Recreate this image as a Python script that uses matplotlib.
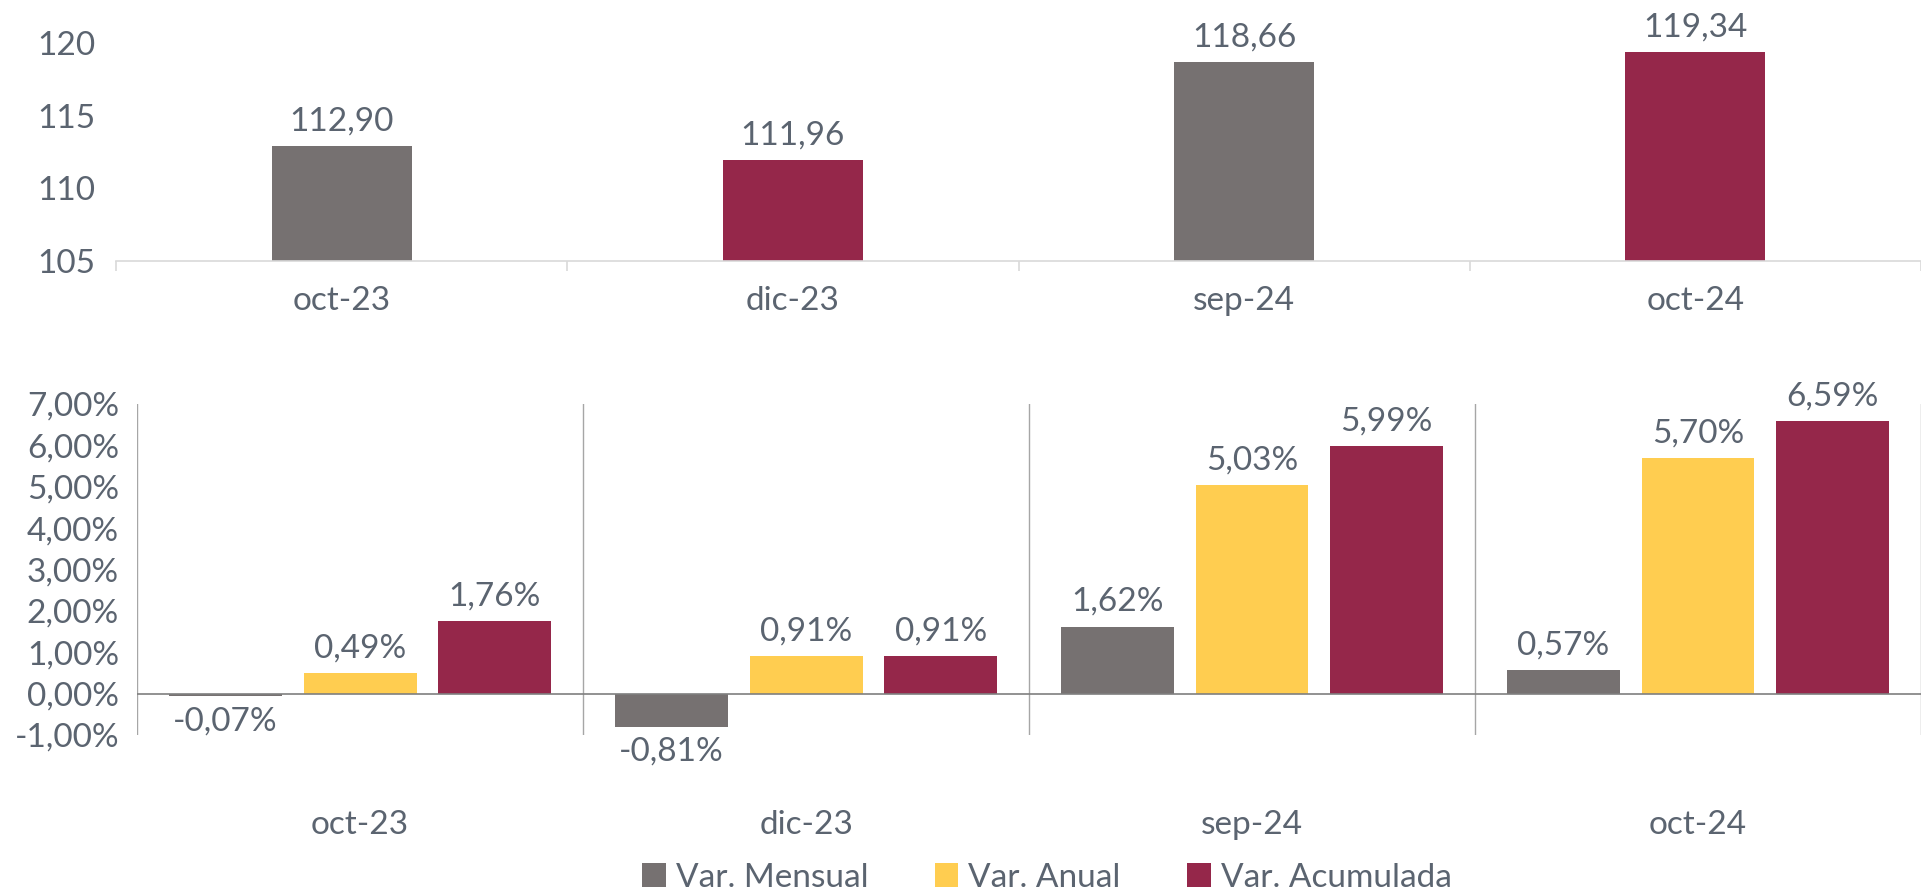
import numpy as np
import matplotlib.pyplot as plt

# datos
periodos = ["oct-23", "dic-23", "sep-24", "oct-24"]
indice = [112.90, 111.96, 118.66, 119.34]
var_mensual = [-0.07, -0.81, 1.62, 0.57]
var_anual = [0.49, 0.91, 5.03, 5.70]
var_acumulada = [1.76, 0.91, 5.99, 6.59]

GRIS = "#767171"
AMARILLO = "#FFCD50"
GRANATE = "#95274A"
TEXTO = "#5B6470"
FS = 24

plt.rcParams["font.family"] = ["Lato", "DejaVu Sans"]
plt.rcParams["font.size"] = FS
plt.rcParams["text.color"] = TEXTO


def fmt(v, pct=False):
    s = f"{v:.2f}".replace(".", ",")
    return s + "%" if pct else s


fig = plt.figure(figsize=(19.21, 8.93), dpi=100)
x = np.arange(len(periodos))

# --- grafico superior: indice ---
ax1 = fig.add_axes([0.0604, 0.7077, 0.9396, 0.2443])
colores = [GRIS, GRANATE, GRIS, GRANATE]
ax1.bar(x, indice, width=0.31, color=colores)
ax1.set_ylim(105, 120)
ax1.set_xlim(-0.5, 3.5)
ax1.set_yticks([105, 110, 115, 120])
ax1.tick_params(axis="y", length=0, pad=15, labelcolor=TEXTO, labelsize=FS)
ax1.set_xticks(x)
ax1.set_xticklabels(periodos)
ax1.tick_params(axis="x", which="major", length=0, pad=18, labelcolor=TEXTO, labelsize=FS)
ax1.set_xticks(np.arange(-0.5, 4.0, 1.0), minor=True)
ax1.tick_params(axis="x", which="minor", length=7, color="#d9d9d9", width=1.2)
for s in ["top", "right", "left"]:
    ax1.spines[s].set_visible(False)
ax1.spines["bottom"].set_color("#d9d9d9")
ax1.spines["bottom"].set_linewidth(1.2)
for xi, v in zip(x, indice):
    ax1.annotate(fmt(v), (xi, v), xytext=(0, 7), textcoords="offset points",
                 ha="center", va="bottom", fontsize=FS, color=TEXTO)

# --- grafico inferior: variaciones ---
ax2 = fig.add_axes([0.0714, 0.177, 0.9286, 0.3706])
w = 0.253
paso = 0.302
series = [
    ("Var. Mensual", var_mensual, GRIS, -paso),
    ("Var. Anual", var_anual, AMARILLO, 0),
    ("Var. Acumulada", var_acumulada, GRANATE, paso),
]
for nombre, vals, color, off in series:
    ax2.bar(x + off, vals, width=w, color=color, label=nombre, zorder=2)
    for xi, v in zip(x, vals):
        if v >= 0:
            ax2.annotate(fmt(v, True), (xi + off, v), xytext=(0, 7),
                         textcoords="offset points", ha="center", va="bottom",
                         fontsize=FS, color=TEXTO)
        else:
            ax2.annotate(fmt(v, True), (xi + off, v), xytext=(0, -7),
                         textcoords="offset points", ha="center", va="top",
                         fontsize=FS, color=TEXTO)

ax2.set_ylim(-1, 7)
ax2.set_xlim(-0.5, 3.5)
ax2.set_yticks(range(-1, 8))
ax2.set_yticklabels([fmt(t, True) for t in range(-1, 8)])
ax2.tick_params(axis="y", length=0, pad=13, labelcolor=TEXTO, labelsize=FS)
ax2.set_xticks(x)
ax2.set_xticklabels(periodos)
ax2.tick_params(axis="x", length=0, pad=54, labelcolor=TEXTO, labelsize=FS)
for s in ax2.spines.values():
    s.set_visible(False)
ax2.axhline(0, color="#7f7f7f", lw=1.2, zorder=3)
for b in np.arange(-0.5, 3.6, 1.0):
    ax2.axvline(b, color="#a6a6a6", lw=1.0, zorder=1)

fig.legend(loc="center", bbox_to_anchor=(0.545, 0.017), ncol=3, frameon=False,
           fontsize=FS, handlelength=0.7, handleheight=0.7, handletextpad=0.3,
           columnspacing=2.0, labelcolor=TEXTO)

fig.savefig("out.png", dpi=100)
